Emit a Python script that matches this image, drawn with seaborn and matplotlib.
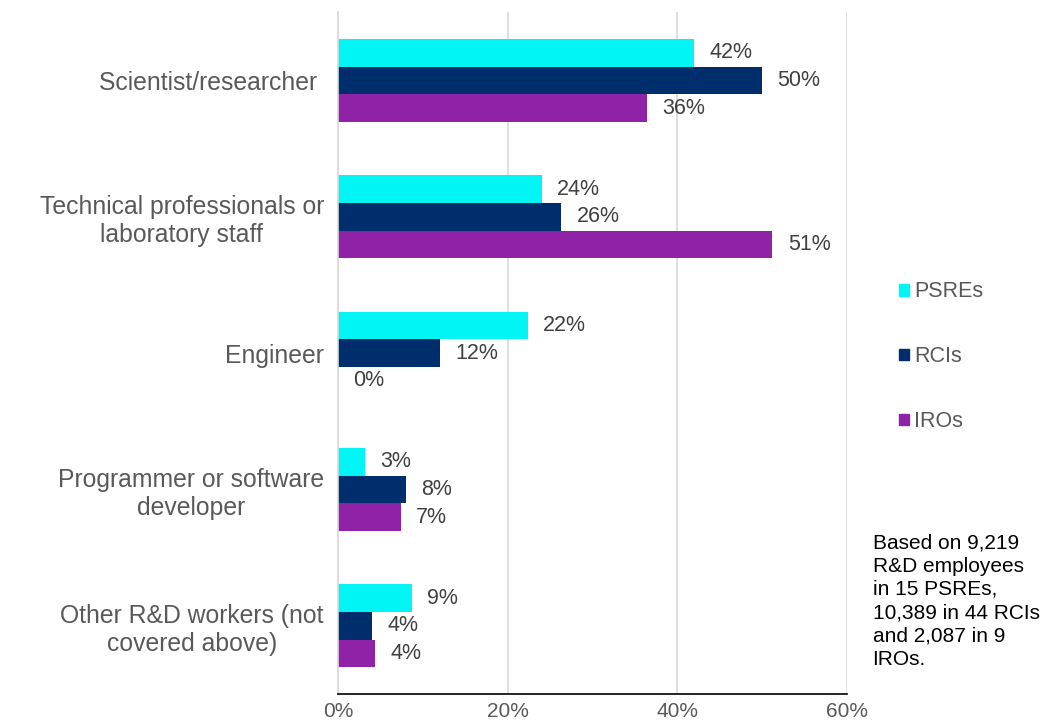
import matplotlib
matplotlib.use("Agg")
import matplotlib.pyplot as plt
import seaborn as sns
import pandas as pd
import numpy as np

# Share of R&D employees by occupation, per organisation type
categories = [
    "Scientist/researcher ",
    "Technical professionals or\nlaboratory staff",
    "Engineer",
    "Programmer or software\ndeveloper",
    "Other R&D workers (not\ncovered above)",
]
groups = ["PSREs", "RCIs", "IROs"]
psres = [42.0, 24.0, 22.4, 3.2, 8.7]
rcis = [50.0, 26.3, 12.0, 8.0, 4.0]
iros = [36.4, 51.2, 0.0, 7.4, 4.4]
xticks = [0, 20, 40, 60]
note = "Based on 9,219\nR&D employees\nin 15 PSREs,\n10,389 in 44 RCIs\nand 2,087 in 9\nIROs."

colors = {"PSREs": "#00F5F5", "RCIs": "#002D6B", "IROs": "#9022A8"}

rows = []
for g, vals in zip(groups, [psres, rcis, iros]):
    for c, v in zip(categories, vals):
        rows.append({"category": c, "group": g, "value": v})
df = pd.DataFrame(rows)

sns.set_style("white")
plt.rcParams["font.family"] = ["Liberation Sans", "DejaVu Sans"]

fig = plt.figure(figsize=(10.59, 7.22), dpi=100)
ax = fig.add_axes([0.319, 0.0388, 0.481, 0.944])

sns.barplot(data=df, y="category", x="value", hue="group", order=categories,
            hue_order=groups, palette=colors, orient="h", width=0.61,
            linewidth=0, saturation=1, ax=ax, legend=False)

ax.set_xlim(0, 60)
ax.set_ylim(len(categories) - 0.5, -0.5)
ax.set_xticks(xticks)
ax.set_xticklabels([f"{t}%" for t in xticks], color="#595959", fontsize=15)
ax.set_xlabel("")
ax.set_ylabel("")
ax.xaxis.grid(True, color="#D9D9D9", linewidth=1.2)
ax.set_axisbelow(True)

for side in ["top", "right"]:
    ax.spines[side].set_visible(False)
ax.spines["left"].set_color("#D9D9D9")
ax.spines["left"].set_linewidth(1.2)
ax.spines["bottom"].set_color("#000000")
ax.spines["bottom"].set_linewidth(1.2)

ax.tick_params(axis="x", which="major", direction="out", length=5, width=1.2,
               color="#000000", pad=1)
ax.tick_params(axis="y", which="major", length=0, pad=10)
ax.set_yticks(np.arange(len(categories) + 1) - 0.5, minor=True)
ax.tick_params(axis="y", which="minor", direction="out", length=5, width=1.2,
               color="#D9D9D9")
for lab in ax.get_yticklabels():
    lab.set_fontsize(17.8)
    lab.set_color("#595959")
    lab.set_multialignment("center")
    lab.set_linespacing(1.2)

# value labels at the end of each bar
for container, g in zip(ax.containers, groups):
    for bar in container:
        v = bar.get_width()
        y = bar.get_y() + bar.get_height() / 2
        ax.annotate(f"{v:.0f}%", xy=(v, y), xytext=(11, 0),
                    textcoords="offset points", ha="left", va="center",
                    fontsize=15.5, color="#404040", clip_on=False)

# legend
handles = [plt.Rectangle((0, 0), 1, 1, color=colors[g]) for g in groups]
fig.legend(handles, groups, loc="center left", bbox_to_anchor=(0.849, 0.506),
           frameon=False, fontsize=15.5, labelcolor="#595959",
           handlelength=0.47, handleheight=0.47, handletextpad=0.23,
           labelspacing=2.04, borderpad=0, borderaxespad=0)

fig.text(0.824, 0.261, note, fontsize=15, color="#000000", va="top",
         ha="left", linespacing=1.28)

fig.savefig("out.png", dpi=100)
